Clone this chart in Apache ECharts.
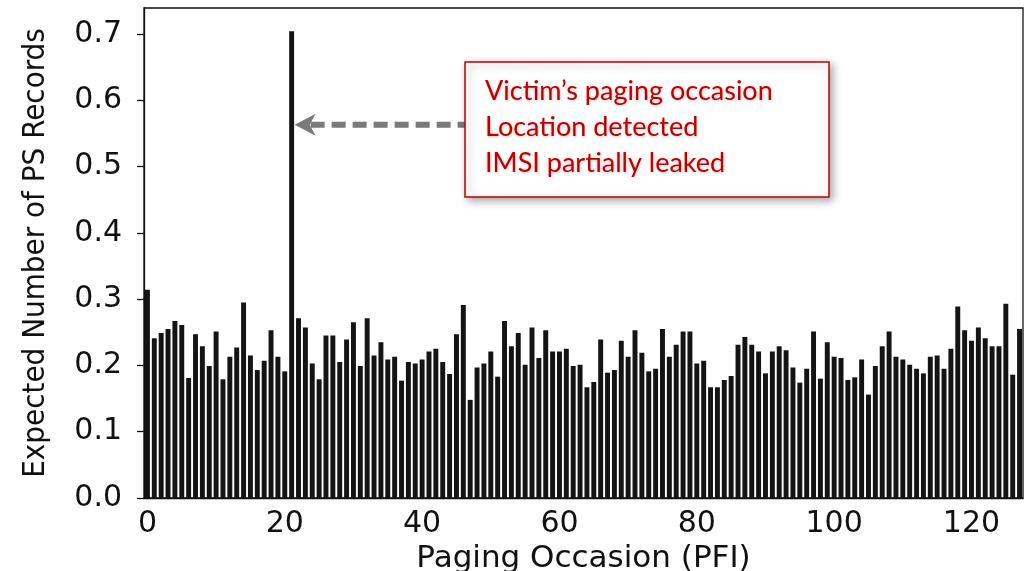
<!DOCTYPE html>
<html><head><meta charset="utf-8">
<script src="https://cdn.jsdelivr.net/npm/echarts@6/dist/echarts.min.js"></script>
<style>html,body{margin:0;padding:0;background:#fff}#c{width:1036px;height:571px}</style>
</head><body><div id="c"></div>
<script>
// Expected number of PS records per paging occasion (PFI 0..127)
const expectedRecords = [
  0.314, 0.241, 0.249, 0.255, 0.267, 0.261, 0.181, 0.247, 0.229, 0.199,
  0.251, 0.179, 0.213, 0.227, 0.295, 0.215, 0.193, 0.207, 0.253, 0.213,
  0.191, 0.704, 0.271, 0.257, 0.203, 0.179, 0.245, 0.245, 0.205, 0.239,
  0.265, 0.199, 0.271, 0.215, 0.235, 0.209, 0.213, 0.177, 0.205, 0.203,
  0.209, 0.221, 0.225, 0.205, 0.187, 0.247, 0.291, 0.148, 0.197, 0.203,
  0.221, 0.183, 0.267, 0.229, 0.249, 0.201, 0.257, 0.211, 0.253, 0.221,
  0.221, 0.225, 0.199, 0.201, 0.167, 0.175, 0.239, 0.189, 0.193, 0.237,
  0.213, 0.253, 0.219, 0.191, 0.195, 0.255, 0.213, 0.231, 0.251, 0.251,
  0.203, 0.207, 0.167, 0.167, 0.178, 0.184, 0.231, 0.243, 0.231, 0.221,
  0.188, 0.221, 0.229, 0.223, 0.197, 0.174, 0.195, 0.251, 0.180, 0.235,
  0.213, 0.211, 0.178, 0.182, 0.209, 0.156, 0.199, 0.229, 0.251, 0.213,
  0.209, 0.201, 0.195, 0.188, 0.213, 0.215, 0.195, 0.225, 0.289, 0.253,
  0.237, 0.257, 0.241, 0.229, 0.229, 0.293, 0.186, 0.255
];
const pagingOccasions = expectedRecords.map((v, i) => String(i));
const xTickLabels = ['0', '20', '40', '60', '80', '100', '120'];
const yTicks = [0, 0.1, 0.2, 0.3, 0.4, 0.5, 0.6, 0.7];
const yMax = 0.739;
const victimIndex = 21;
const arrowValue = 0.563;
const annotationLines = ['Victim\u2019s paging occasion', 'Location detected', 'IMSI partially leaked'];

const chart = echarts.init(document.getElementById('c'), null, {renderer: 'canvas'});
const axisFont = {fontFamily: 'DejaVu Sans', fontSize: 30, color: '#111'};
chart.setOption({
  animation: false,
  backgroundColor: '#fff',
  grid: {left: 144, right: 13, top: 8, bottom: 73, show: true, borderColor: '#111', borderWidth: 1.3,
    containLabel: false, outerBoundsMode: 'none'},
  xAxis: {
    type: 'category',
    data: pagingOccasions,
    boundaryGap: true,
    name: 'Paging Occasion (PFI)',
    nameLocation: 'middle',
    nameGap: 39,
    nameTextStyle: {fontFamily: 'DejaVu Sans', fontSize: 31, color: '#111'},
    axisLine: {lineStyle: {color: '#111', width: 1.3}},
    axisTick: {alignWithLabel: true, length: 6, lineStyle: {color: '#111', width: 1.3},
      interval: (i, v) => xTickLabels.indexOf(v) >= 0},
    axisLabel: Object.assign({margin: 11, interval: (i, v) => xTickLabels.indexOf(v) >= 0}, axisFont),
    splitLine: {show: false}
  },
  yAxis: {
    type: 'value',
    min: 0, max: yMax,
    name: 'Expected Number of PS Records',
    nameLocation: 'middle',
    nameGap: 93,
    nameTextStyle: {fontFamily: 'DejaVu Sans Condensed', fontSize: 31, color: '#111'},
    axisLine: {show: true, lineStyle: {color: '#111', width: 1.3}},
    axisTick: {show: true, length: 7, lineStyle: {color: '#111', width: 1.3}, customValues: yTicks},
    axisLabel: Object.assign({margin: 22, customValues: yTicks, formatter: v => v.toFixed(1)}, axisFont),
    splitLine: {show: false}
  },
  series: [{
    type: 'bar',
    data: expectedRecords,
    barWidth: '72%',
    itemStyle: {color: '#141414'}
  }]
});

// annotation: arrow to victim's bar and callout box
const tip = chart.convertToPixel({xAxisIndex: 0, yAxisIndex: 0}, [victimIndex, arrowValue]);
const boxX = 465, boxY = 62, boxW = 364, boxH = 135;
const tipX = tip[0] + 3, ay = tip[1];
const grey = '#7a7a7a';
const elements = [
  {type: 'line', shape: {x1: tipX + 16, y1: ay, x2: boxX, y2: ay},
   style: {stroke: grey, lineWidth: 6, lineDash: [14, 7]}, z: 10},
  {type: 'polygon', shape: {points: [[tipX, ay], [tipX + 21, ay - 11], [tipX + 15, ay], [tipX + 21, ay + 11]]},
   style: {fill: grey}, z: 10},
  {type: 'rect', shape: {x: boxX, y: boxY, width: boxW, height: boxH},
   style: {fill: '#fff', stroke: '#C00000', lineWidth: 1.5, shadowBlur: 8, shadowOffsetX: 3, shadowOffsetY: 3, shadowColor: 'rgba(0,0,0,0.35)'}, z: 11}
];
annotationLines.forEach((t, k) => {
  elements.push({type: 'text', x: boxX + 20, y: boxY + 29 + k * 36, z: 12,
    style: {text: t, fill: '#C00000', font: '27px Lato', textVerticalAlign: 'middle', verticalAlign: 'middle',
      textShadowBlur: 3, textShadowColor: 'rgba(0,0,0,0.25)', textShadowOffsetX: 1, textShadowOffsetY: 1}});
});
chart.setOption({graphic: {elements: elements}});
</script>
</body></html>
